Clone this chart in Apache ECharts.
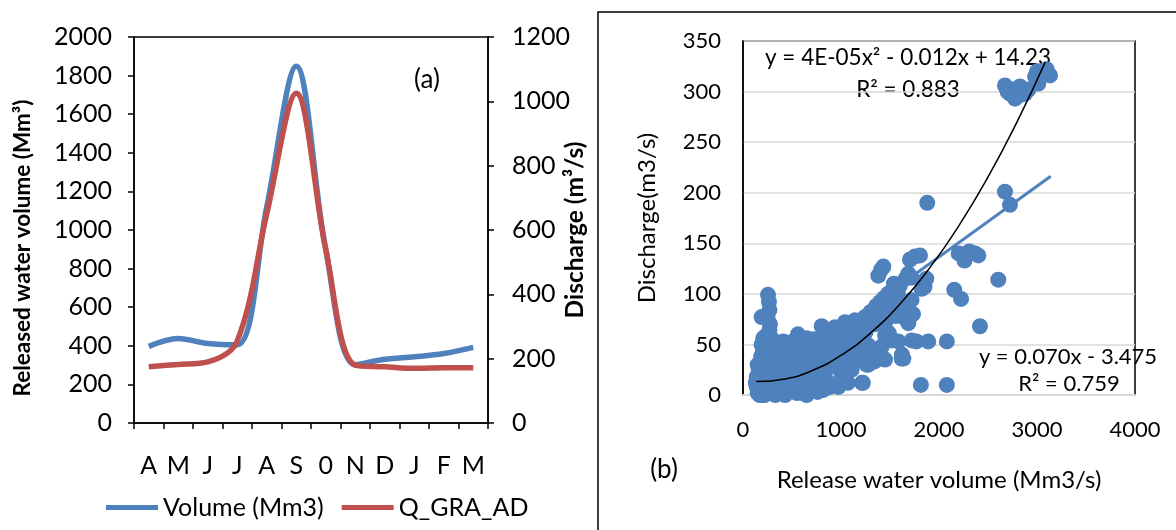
<!DOCTYPE html>
<html><head><meta charset="utf-8">
<script src="https://cdn.jsdelivr.net/npm/echarts@6/dist/echarts.min.js"></script>
<style>html,body{margin:0;padding:0;background:#fff}#c{width:1176px;height:530px}</style>
</head><body><div id="c"></div>
<script>
// ---- Panel (a) data ----
const months = ['A','M','J','J','A','S','0','N','D','J','F','M'];
const volumeMm3 = [397, 438, 412, 405, 1120, 1848, 900, 302, 330, 343, 360, 392];
const qGraAd = [175, 182, 190, 255, 650, 1025, 540, 180, 175, 170, 172, 172];
const leftTicks = {min:0, max:2000, interval:200};
const rightTicks = {min:0, max:1200, interval:200};

// ---- Panel (b) data ----
const releaseVolume = [
 2673,2700,2758,2826,2776,2844,2912,2878,2724,2786,2980,3013,3048,3000,3071,3100,3133,
 2673,2724,1880,
 2200,2250,2310,2367,2401,2260,
 2605,2156,2225,2418,2080,1890,2080,1815,1852,1870,1823,
 1755,1806,1704,1432,1381,1410,1687,1720,1568,1530,1720,1735,1643,1619,1517,1347,1300,1245,1143,1041,939,870,
 1653,1449,1517,1721,1770,1449,1490,1245,1280,1313,1279,1449,1619,1622,1374,1337,1007,973,1215,1069,1223,
 1075,905,1109,1041,1415,1687,1585,1636,1415,1296,1262,1058,1041,888,937,
 1000,1080,1180,1200,1160,1320,1280,1360,1400,1440,1480,1540,1580,1600,1660,1620,1560,1500,1390,1350,1250,1150,1100,1000,950,1060,1120,1180,1200,1100,980,860,920,
 255,265,270,250,275,230,270,250,255,240,210,200,207,190,
 150,170,160,180,200,210,220,190,230,245,260,280,290,300,180,160,140,130,230,250,200,220,170,140,150,185,210,280,
 300,320,350,380,400,420,450,470,490,330,360,390,411,440,460,480,500,340,310,370,430,300,330,400,
 520,540,530,580,600,620,640,650,680,700,530,570,610,660,690,550,590,670,720,750,760,780,800,820,850,880,900,920,950,
 803,820,850,860,900,940,960,990,800,770,730,870,1000,1020,560,610,700,760,480,520,580,640,700,740,840,820,780,720,650,550,450,250,190
];
const dischargeObs = [
 306,300,302,305,293,297,302,298,298,295,315,308,320,320,320,322,316,
 201,188,190,
 140,139,142,140,138,133,
 114,104,95,68,53,53,10,10,107,115,105,
 137,138,134,127,118,124,120,116,107,104,94,80,79,91,87,84,82,77,74,72,67,64,
 76,71,54,54,53,59,61,46,49,35,30,35,36,40,42,33,18,8,12,12,12,
 35,31,25,45,48,71,53,36,36,45,30,25,15,8,28,
 64,70,66,62,72,78,72,88,92,96,100,110,100,108,115,84,78,80,78,70,62,58,50,52,45,55,40,48,35,62,58,55,52,
 99,92,84,77,70,58,64,50,40,30,56,42,56,77,
 2,8,15,20,0,5,12,28,18,25,35,15,22,35,10,25,8,12,3,10,2,0,0,18,30,38,45,45,
 5,10,12,20,30,8,15,25,40,28,40,48,53,45,35,5,18,50,45,2,0,55,0,3,
 28,50,54,45,38,20,10,56,48,28,10,5,2,32,15,35,22,40,55,48,35,20,10,5,15,30,40,50,60,
 68,62,55,45,62,45,30,55,45,55,8,8,40,50,60,55,5,3,52,45,30,45,42,25,35,25,40,18,0,2,50,55,50
];
// Trendlines as printed on the chart (Excel fits)
const linTrend = {slope:0.070, intercept:-3.475, xFrom:136, xTo:3140};
const polyTrend = {a:3.7e-5, b:-0.012, c:14.23, xFrom:136, xTo:3085};
const trendSamples = [0,0.1,0.2,0.3,0.4,0.5,0.6,0.7,0.8,0.9,1];

const scatterData = releaseVolume.map((v,i)=>[v, dischargeObs[i]]);
const linData = [linTrend.xFrom, linTrend.xTo].map(x=>[x, linTrend.slope*x+linTrend.intercept]);
const polyData = trendSamples.map(t=>{const x=polyTrend.xFrom+t*(polyTrend.xTo-polyTrend.xFrom);return [x, polyTrend.a*x*x+polyTrend.b*x+polyTrend.c];});

const FONT = 'Lato';
const BLUE = '#4f81bd', RED = '#c0504d';
const plain = v => String(v);
const chart = echarts.init(document.getElementById('c'));
chart.setOption({
  animation:false,
  textStyle:{fontFamily:FONT, color:'#000'},
  grid:[
    {left:134, right:1176-488, top:37, bottom:530-423, show:true, borderColor:'#000', borderWidth:1.5},
    {left:743, right:1176-1135, top:41, bottom:530-395, show:true, borderColor:'#000', borderWidth:1.5}
  ],
  legend:{left:101, top:490, itemWidth:52, itemHeight:5, itemGap:18, icon:'rect',
    textStyle:{fontFamily:FONT, fontSize:25, color:'#000'}, data:['Volume (Mm3)','Q_GRA_AD']},
  xAxis:[
    {gridIndex:0, type:'category', data:months, boundaryGap:true,
     axisLine:{lineStyle:{color:'#000', width:1.5}},
     axisTick:{show:true, interval:0, length:6, lineStyle:{color:'#000', width:1.5}},
     axisLabel:{interval:0, fontSize:25, color:'#000', margin:30, fontFamily:FONT}},
    {gridIndex:1, type:'value', min:0, max:4000, interval:1000,
     axisLine:{lineStyle:{color:'#d9d9d9', width:2}}, axisTick:{show:false}, splitLine:{show:false},
     axisLabel:{fontSize:22, color:'#000', margin:24, fontFamily:FONT, formatter:plain},
     name:'Release water volume (Mm3/s)', nameLocation:'middle', nameGap:73,
     nameTextStyle:{fontSize:24, color:'#000', fontFamily:FONT}}
  ],
  yAxis:[
    {gridIndex:0, type:'value', min:leftTicks.min, max:leftTicks.max, interval:leftTicks.interval,
     axisLine:{show:true, lineStyle:{color:'#000', width:1.5}},
     axisTick:{show:true, length:6, lineStyle:{color:'#000', width:1.5}},
     splitLine:{show:false},
     axisLabel:{fontSize:25, color:'#000', margin:22, fontFamily:FONT, formatter:plain}},
    {gridIndex:0, type:'value', position:'right', min:rightTicks.min, max:rightTicks.max, interval:rightTicks.interval,
     axisLine:{show:true, lineStyle:{color:'#000', width:1.5}},
     axisTick:{show:true, length:6, lineStyle:{color:'#000', width:1.5}},
     splitLine:{show:false},
     axisLabel:{fontSize:25, color:'#000', margin:24, fontFamily:FONT, formatter:plain}},
    {gridIndex:1, type:'value', min:0, max:350, interval:50,
     axisLine:{show:true, lineStyle:{color:'#000', width:1.5}}, axisTick:{show:false},
     splitLine:{show:true, lineStyle:{color:'#d9d9d9', width:1.5}},
     axisLabel:{fontSize:22, color:'#000', margin:22, fontFamily:FONT, formatter:plain},
     name:'Discharge(m3/s)', nameLocation:'middle', nameGap:84,
     nameTextStyle:{fontSize:24, color:'#000', fontFamily:FONT}}
  ],
  series:[
    {name:'Volume (Mm3)', type:'line', xAxisIndex:0, yAxisIndex:0, data:volumeMm3, smooth:0.35,
     showSymbol:false, lineStyle:{color:BLUE, width:5.5}, itemStyle:{color:BLUE}},
    {name:'Q_GRA_AD', type:'line', xAxisIndex:0, yAxisIndex:1, data:qGraAd, smooth:0.35,
     showSymbol:false, lineStyle:{color:RED, width:5.5}, itemStyle:{color:RED}},
    {name:'obs', type:'scatter', xAxisIndex:1, yAxisIndex:2, data:scatterData, symbolSize:16,
     itemStyle:{color:BLUE, opacity:1}, clip:false},
    {name:'lin', type:'line', xAxisIndex:1, yAxisIndex:2, data:linData, showSymbol:false,
     lineStyle:{color:BLUE, width:3}, z:3},
    {name:'poly', type:'line', xAxisIndex:1, yAxisIndex:2, data:polyData, smooth:true, showSymbol:false,
     lineStyle:{color:'#000', width:1.5}, z:4}
  ],
  graphic:[
    {type:'rect', shape:{x:598, y:12, width:700, height:600}, style:{fill:'none', stroke:'#000', lineWidth:1.5}, silent:true},
    {type:'text', x:23, y:248, rotation:Math.PI/2, style:{text:'Released water volume (Mm³)', fontSize:22.5, fontWeight:'bold', fontFamily:FONT, fill:'#000', align:'center', verticalAlign:'middle'}},
    {type:'text', x:575, y:230, rotation:Math.PI/2, style:{text:'Discharge (m³/s)', fontSize:24.5, fontWeight:'bold', fontFamily:FONT, fill:'#000', align:'center', verticalAlign:'middle'}},
    {type:'text', x:427, y:80, style:{text:'(a)', fontSize:26, fontFamily:FONT, fill:'#000', align:'center', verticalAlign:'middle'}},
    {type:'text', x:664, y:470, style:{text:'(b)', fontSize:26, fontFamily:FONT, fill:'#000', align:'center', verticalAlign:'middle'}},
    {type:'text', x:908, y:58, style:{text:'y = 4E-05x² - 0.012x + 14.23', fontSize:22.5, fontFamily:FONT, fill:'#000', align:'center', verticalAlign:'middle'}},
    {type:'text', x:908, y:90, style:{text:'R² = 0.883', fontSize:22.5, fontFamily:FONT, fill:'#000', align:'center', verticalAlign:'middle'}},
    {type:'text', x:1068, y:357, style:{text:'y = 0.070x - 3.475', fontSize:22, fontFamily:FONT, fill:'#000', align:'center', verticalAlign:'middle'}},
    {type:'text', x:1069, y:384, style:{text:'R² = 0.759', fontSize:22, fontFamily:FONT, fill:'#000', align:'center', verticalAlign:'middle'}}
  ]
});
</script></body></html>
